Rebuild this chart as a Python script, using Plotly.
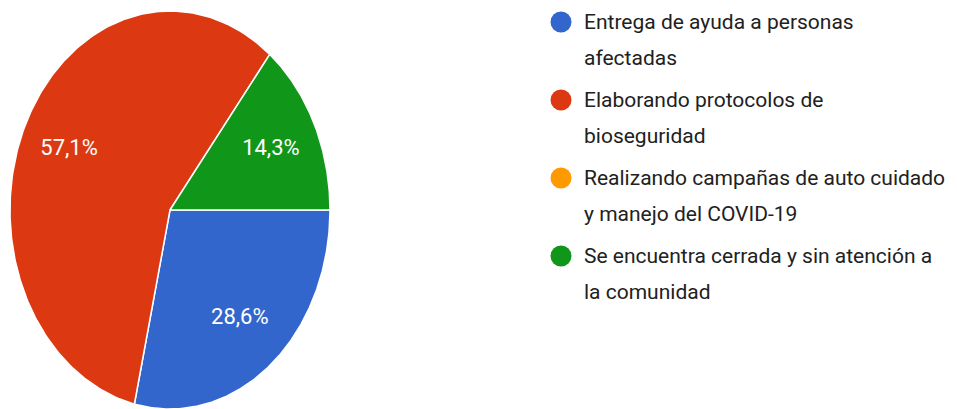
import numpy as np
import plotly.graph_objects as go

# ---- data ----
categories = [
    "Entrega de ayuda a personas afectadas",
    "Elaborando protocolos de bioseguridad",
    "Realizando campañas de auto cuidado y manejo del COVID-19",
    "Se encuentra cerrada y sin atención a la comunidad",
]
legend_lines = [
    ["Entrega de ayuda a personas", "afectadas"],
    ["Elaborando protocolos de", "bioseguridad"],
    ["Realizando campañas de auto cuidado", "y manejo del COVID-19"],
    ["Se encuentra cerrada y sin atención a", "la comunidad"],
]
counts = [2, 4, 0, 1]
colors = ["#3366cc", "#dc3912", "#ff9900", "#109618"]

# ---- layout constants (pixel-space axes) ----
W, H = 957, 409
CX, CY, RX, RY = 170, 210, 160, 199
START_DEG = 90  # first slice starts at 3 o'clock, goes clockwise
LABEL_R = 0.7
FONT = "Roboto, Arial, sans-serif"

total = sum(counts)
fig = go.Figure()

ang = START_DEG
label_x, label_y, label_t = [], [], []
for cat, c, col in zip(categories, counts, colors):
    if c <= 0:
        continue
    span = 360.0 * c / total
    th = np.radians(np.linspace(ang, ang + span, 200))
    xs = np.concatenate([[CX], CX + RX * np.sin(th), [CX]])
    ys = np.concatenate([[CY], CY - RY * np.cos(th), [CY]])
    fig.add_trace(go.Scatter(
        x=xs, y=ys, mode="lines", fill="toself", fillcolor=col,
        line=dict(color="white", width=1.5), hoverinfo="text",
        text=cat, showlegend=False,
    ))
    mid = np.radians(ang + span / 2)
    label_x.append(CX + LABEL_R * RX * np.sin(mid))
    label_y.append(CY - LABEL_R * RY * np.cos(mid))
    label_t.append(f"{100 * c / total:.1f}%".replace(".", ","))
    ang += span

fig.add_trace(go.Scatter(
    x=label_x, y=label_y, mode="text", text=label_t,
    textfont=dict(color="white", size=22, family=FONT),
    hoverinfo="skip", showlegend=False,
))

# legend
LEG_X, LEG_Y0, LEG_STEP, LINE_STEP, TEXT_X = 561, 22, 78, 36, 582
fig.add_trace(go.Scatter(
    x=[LEG_X] * len(categories),
    y=[LEG_Y0 + i * LEG_STEP for i in range(len(categories))],
    mode="markers",
    marker=dict(size=21, color=colors, symbol="circle"),
    hoverinfo="skip", showlegend=False,
))
for i, lines in enumerate(legend_lines):
    for j, ln in enumerate(lines):
        fig.add_annotation(
            x=TEXT_X, y=LEG_Y0 + i * LEG_STEP + j * LINE_STEP,
            xref="x", yref="y", text=ln, showarrow=False,
            xanchor="left", yanchor="middle",
            font=dict(size=21, color="#212121", family=FONT),
        )

fig.update_layout(
    width=W, height=H,
    margin=dict(l=0, r=0, t=0, b=0),
    paper_bgcolor="white", plot_bgcolor="white",
    xaxis=dict(range=[0, W], visible=False, fixedrange=True),
    yaxis=dict(range=[H, 0], visible=False, fixedrange=True),
    showlegend=False,
)
fig.write_html(
    "out.html",
    config={"displayModeBar": False},
    post_script="document.body.style.margin='0';document.body.style.overflow='hidden';",
)
